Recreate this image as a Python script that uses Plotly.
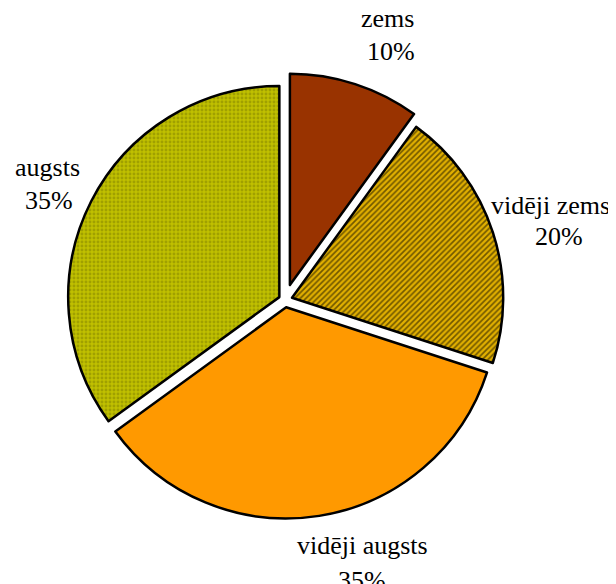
import plotly.graph_objects as go

categories = ["zems", "vidēji zems", "vidēji augsts", "augsts"]
values = [10, 20, 35, 35]

colors = ["#993300", "#E2B000", "#FF9900", "#C0C000"]
pulls = [0.075, 0.035, 0.035, 0.03]
pattern_shapes = ["", "/", "", "."]
pattern_fg = ["#000000", "#000000", "#000000", "#7F7F00"]

# label line centres (page pixels) — layout only: (name x, name y, pct x, pct y)
label_pos = [
    (387, 18, 391, 52),
    (550, 205, 559, 237),
    (362, 545, 362, 580),
    (47, 167, 49, 200),
]

W, H = 616, 584
L, R, T, B = 50, 112, 65, 65
PW, PH = W - L - R, H - T - B
OFF = 8  # page body margin
FONT = "'Times New Roman', 'Liberation Serif', serif"

fig = go.Figure(go.Pie(
    labels=categories,
    values=values,
    sort=False,
    direction="clockwise",
    rotation=0,
    pull=pulls,
    marker=dict(
        colors=colors,
        line=dict(color="#000000", width=2.5),
        pattern=dict(shape=pattern_shapes, fgcolor=pattern_fg, size=4, solidity=0.42,
                     fillmode="overlay"),
    ),
    textinfo="none",
    hoverinfo="label+percent",
    showlegend=False,
))


def to_paper(px, py):
    fx, fy = px - OFF, py - OFF
    return (fx - L) / PW, 1 - (fy - T) / PH


total = sum(values)
for cat, val, (nx, ny, qx, qy) in zip(categories, values, label_pos):
    for txt, (x, y) in ((cat, to_paper(nx, ny)), (f"{round(100 * val / total)}%", to_paper(qx, qy))):
        fig.add_annotation(
            x=x, y=y, xref="paper", yref="paper",
            text=txt, showarrow=False,
            xanchor="center", yanchor="middle",
            font=dict(family=FONT, size=26, color="#000000"),
        )

fig.update_layout(
    width=W, height=H,
    margin=dict(l=L, r=R, t=T, b=B),
    paper_bgcolor="white",
    plot_bgcolor="white",
    font=dict(family=FONT),
)

fig.write_html("out.html")
